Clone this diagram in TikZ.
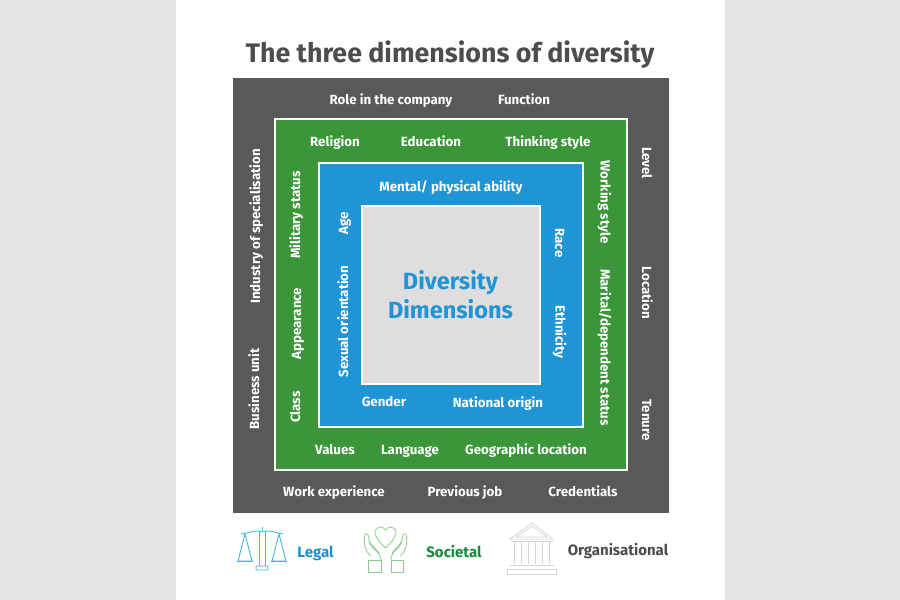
\documentclass[tikz,border=0pt]{standalone}
\usepackage{fontspec}
\setmainfont{Fira Sans}
\definecolor{pagebg}{HTML}{E6E6E6}
\definecolor{darkbox}{HTML}{5A5958}
\definecolor{greenbox}{HTML}{3A9639}
\definecolor{bluebox}{HTML}{1F95D6}
\definecolor{corebox}{HTML}{DFDDDE}
\definecolor{titlegrey}{HTML}{4D4D4F}
\definecolor{legalblue}{HTML}{1B8FD2}
\definecolor{socgreen}{HTML}{168A3C}
\definecolor{scaleblue}{HTML}{45B4E6}
\definecolor{handgreen}{HTML}{8CC98A}
\definecolor{templegrey}{HTML}{D6D6D6}
\tikzset{
 x=1pt,y=-1pt,
 band/.style={draw=white,line width=2pt,anchor=north west,inner sep=0pt,outer sep=0pt},
 lab/.style={text=white,font=\fontsize{13.3}{15}\selectfont\bfseries,inner sep=0pt,text height=11pt,text depth=1pt},
 vlab/.style={lab,rotate=90},
 vlabr/.style={lab,rotate=270},
 leg/.style={font=\fontsize{15}{17}\selectfont\bfseries,inner sep=0pt,text height=11.5pt,text depth=1pt},
 scaleline/.style={draw=scaleblue,line width=0.9pt,line join=round},
 handline/.style={draw=handgreen,line width=0.8pt,line join=round},
 templeline/.style={draw=templegrey,line width=0.8pt},
}
\begin{document}
\begin{tikzpicture}
\useasboundingbox (0,0) rectangle (900,600);
\fill[pagebg] (0,0) rectangle (900,600);
\fill[white] (176,0) rectangle (725,600);
\node[text=titlegrey,font=\fontsize{26.8}{30}\selectfont\bfseries,inner sep=0pt,text height=22pt,text depth=3pt] (title) at (450,53) {The three dimensions of diversity};
\node[fill=darkbox,draw=none,anchor=north west,inner sep=0pt,minimum width=436pt,minimum height=435pt] (outer) at (233,78) {};
\node[band,fill=greenbox,minimum width=352pt,minimum height=351pt] (mid) at (275,119) {};
\node[band,fill=bluebox,minimum width=264pt,minimum height=264pt] (inner) at (319,163) {};
\node[band,fill=corebox,minimum width=178pt,minimum height=178pt] (core) at (362,206) {};
\node[text=bluebox,font=\fontsize{23.5}{29}\selectfont\bfseries,align=center,inner sep=0pt] (corelab) at (450.5,294.7) {Diversity\\Dimensions};
% outer
\node[lab] (o1) at (391,99) {Role in the company};
\node[lab] (o2) at (524,99) {Function};
\node[lab] (o3) at (334,491) {Work experience};
\node[lab] (o4) at (465,491) {Previous job};
\node[lab] (o5) at (583,491) {Credentials};
\node[vlab] (o6) at (255,226.5) {Industry of specialisation};
\node[vlab] (o7) at (254,389) {Business unit};
\node[vlabr] (o8) at (647,163) {Level};
\node[vlabr] (o9) at (647,293) {Location};
\node[vlabr] (o10) at (647,420) {Tenure};
% mid
\node[lab] (m1) at (335,141) {Religion};
\node[lab] (m2) at (431,141) {Education};
\node[lab] (m3) at (548,141) {Thinking style};
\node[lab] (m4) at (335,449) {Values};
\node[lab] (m5) at (410,449) {Language};
\node[lab] (m6) at (526,449) {Geographic location};
\node[vlab] (m7) at (295,215) {Military status};
\node[vlab] (m8) at (296,323.5) {Appearance};
\node[vlab] (m9) at (295,407) {Class};
\node[vlabr] (m10) at (605.5,202) {Working style};
\node[vlabr] (m11) at (605.5,347.5) {Marital/dependent status};
% inner
\node[lab] (i1) at (451,186) {Mental/ physical ability};
\node[lab] (i2) at (384,401) {Gender};
\node[lab] (i3) at (498,402) {National origin};
\node[vlab] (i4) at (343,223) {Age};
\node[vlab] (i5) at (343,321.5) {Sexual orientation};
\node[vlabr] (i6) at (560,243) {Race};
\node[vlabr] (i7) at (560.5,332) {Ethnicity};
% legend
\node[leg,text=legalblue] (legal) at (315.5,552) {Legal};
\node[leg,text=socgreen] (soc) at (454,552) {Societal};
\node[leg,text=titlegrey] (org) at (618,550) {Organisational};
% scales
\draw[scaleline] (259,531) -- (259,566) (265,531)--(265,566);
\draw[scaleline] (262,527) -- (262,531);
\draw[scaleline] (241,534) .. controls (250,533) and (256,529) .. (262,532) .. controls (268,529) and (276,533) .. (283,534);
\draw[scaleline] (245,534) -- (238,561) -- (252,561) -- cycle;
\draw[scaleline] (236.5,561.5) -- (253,561.5);
\draw[scaleline] (279,534) -- (272,561) -- (286,561) -- cycle;
\draw[scaleline] (271,561.5) -- (287,561.5);
\draw[scaleline,rounded corners=1pt] (256,570) -- (256,566) -- (268,566) -- (268,570) -- cycle;
% hands
\draw[handline] (385.5,548) .. controls (378,541) and (374,535) .. (375,531) .. controls (377,526) and (383,526) .. (385.5,530) .. controls (388,526) and (394,526) .. (396,531) .. controls (397,535) and (393,541) .. (385.5,548) -- cycle;
\draw[handline] (371,556) .. controls (365,551) and (363,544) .. (365,534) .. controls (368,533) and (369,536) .. (369,540) .. controls (370,546) and (373,548) .. (375,550) .. controls (378,552) and (381,556) .. (381,560);
\draw[handline] (369,541) .. controls (372,546) and (376,549) .. (379,553);
\draw[handline] (400,556) .. controls (406,551) and (408,544) .. (406,534) .. controls (403,533) and (402,536) .. (402,540) .. controls (401,546) and (398,548) .. (396,550) .. controls (393,552) and (391,556) .. (391,560);
\draw[handline] (402,541) .. controls (399,546) and (395,549) .. (392,553);
\draw[handline] (368,560) rectangle (381,572);
\draw[handline] (391,560) rectangle (403,572);
% temple
\draw[templeline,line join=round] (510,539) -- (532,523) -- (553,539) -- cycle;
\draw[templeline] (516,537) -- (532,526) -- (547,537) -- cycle;
\draw[templeline] (511,541) -- (553,541);
\foreach \c in {514,521,528,535,542,549}{\draw[templeline] (\c,542) -- (\c,564);}
\draw[templeline] (510,565) -- (554,565);
\draw[templeline] (507,569) -- (556,569) -- (556,574) -- (507,574) -- cycle;
\end{tikzpicture}
\end{document}
